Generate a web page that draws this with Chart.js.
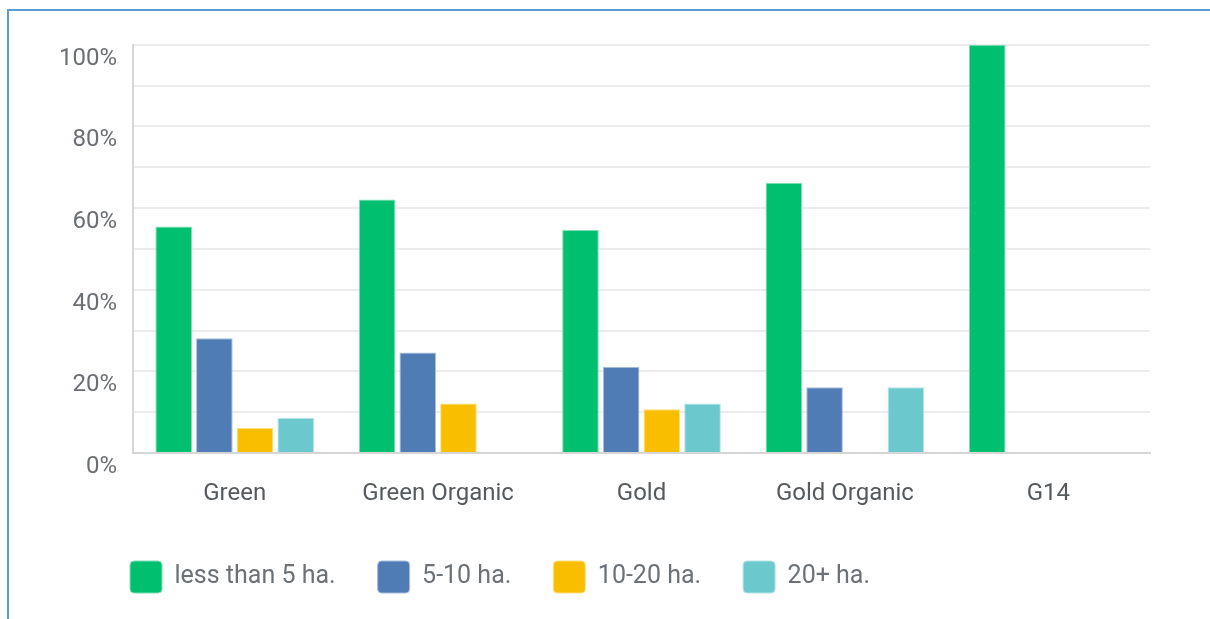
<!DOCTYPE html>
<html>
<head>
<meta charset="utf-8">
<script src="https://cdn.jsdelivr.net/npm/chart.js@4/dist/chart.umd.min.js"></script>
<style>
  html, body { margin: 0; padding: 0; background: #fff; }
  body { width: 1210px; height: 619px; overflow: hidden; position: relative; }
  .frame {
    position: absolute; left: 7px; top: 9px; right: 0; bottom: 0;
    border-top: 2px solid #5b9bd5; border-left: 2px solid #5b9bd5;
  }
  .box { position: absolute; left: 10px; top: 12px; width: 1200px; height: 607px; }
</style>
</head>
<body>
<div class="frame"></div>
<div class="box"><canvas id="chart"></canvas></div>
<script>
// datos (porcentajes)
const categories = ["Green", "Green Organic", "Gold", "Gold Organic", "G14"];
const seriesNames = ["less than 5 ha.", "5-10 ha.", "10-20 ha.", "20+ ha."];
const lessThan5 = [55.5, 62.1, 54.6, 66.2, 100];
const from5to10 = [28.1, 24.6, 21.1, 16.1, 0];
const from10to20 = [6.1, 12.1, 10.7, 0, 0];
const over20 = [8.6, 0, 12.1, 16.1, 0];
const yTicks = [0, 20, 40, 60, 80, 100];

const colors = ["#00bf6f", "#507cb6", "#f9be00", "#6bc8cd"];
const edges = ["#7fdfb7", "#a7bedb", "#fcdf80", "#b5e4e6"];
const FONT = "Roboto, sans-serif";

// mueve la leyenda para que empiece bajo el área del gráfico
const legendShift = {
  id: "legendShift",
  afterLayout(chart) {
    const pad = chart.options.plugins.legend.labels.padding;
    chart.legend.left = chart.chartArea.left - 3 - pad;
  }
};

function buildDatasets() {
  const all = [lessThan5, from5to10, from10to20, over20];
  return all.map((vals, i) => ({
    label: seriesNames[i],
    data: vals,
    backgroundColor: colors[i],
    borderColor: edges[i],
    borderWidth: 1,
    categoryPercentage: 0.8,
    barPercentage: 0.9
  }));
}

function init() {
  const ctx = document.getElementById("chart").getContext("2d");
  new Chart(ctx, {
    type: "bar",
    data: { labels: categories, datasets: buildDatasets() },
    plugins: [legendShift],
    options: {
      responsive: true,
      maintainAspectRatio: false,
      animation: false,
      layout: { padding: { top: 32.7, right: 60, left: 0, bottom: 16 } },
      scales: {
        y: {
          min: 0,
          max: 100,
          afterFit(scale) {
            scale.width = 123;
            scale.paddingTop = 0;
            scale.paddingBottom = 0;
          },
          border: { display: true, color: "#d6d6d6", width: 2 },
          grid: { color: "#ececec", lineWidth: 2, drawTicks: false },
          ticks: {
            stepSize: 10,
            padding: 16,
            labelOffset: 14,
            color: "#6b6f73",
            font: { family: FONT, size: 24 },
            callback: v => yTicks.includes(v) ? v + "%" : ""
          }
        },
        x: {
          afterFit(scale) {
            scale.height = 66;
            scale.paddingLeft = 0;
            scale.paddingRight = 0;
          },
          border: { display: true, color: "#d6d6d6", width: 2 },
          grid: { display: false, drawTicks: false },
          ticks: {
            padding: 27,
            color: "#555a5e",
            font: { family: FONT, size: 24 }
          }
        }
      },
      plugins: {
        legend: {
          position: "bottom",
          align: "start",
          labels: {
            boxWidth: 32,
            boxHeight: 32,
            padding: 42,
            color: "#6b7177",
            font: { family: FONT, size: 25 },
            useBorderRadius: true,
            borderRadius: 4
          }
        },
        tooltip: { enabled: false }
      }
    }
  });
}

document.addEventListener("DOMContentLoaded", init);
</script>
</body>
</html>
